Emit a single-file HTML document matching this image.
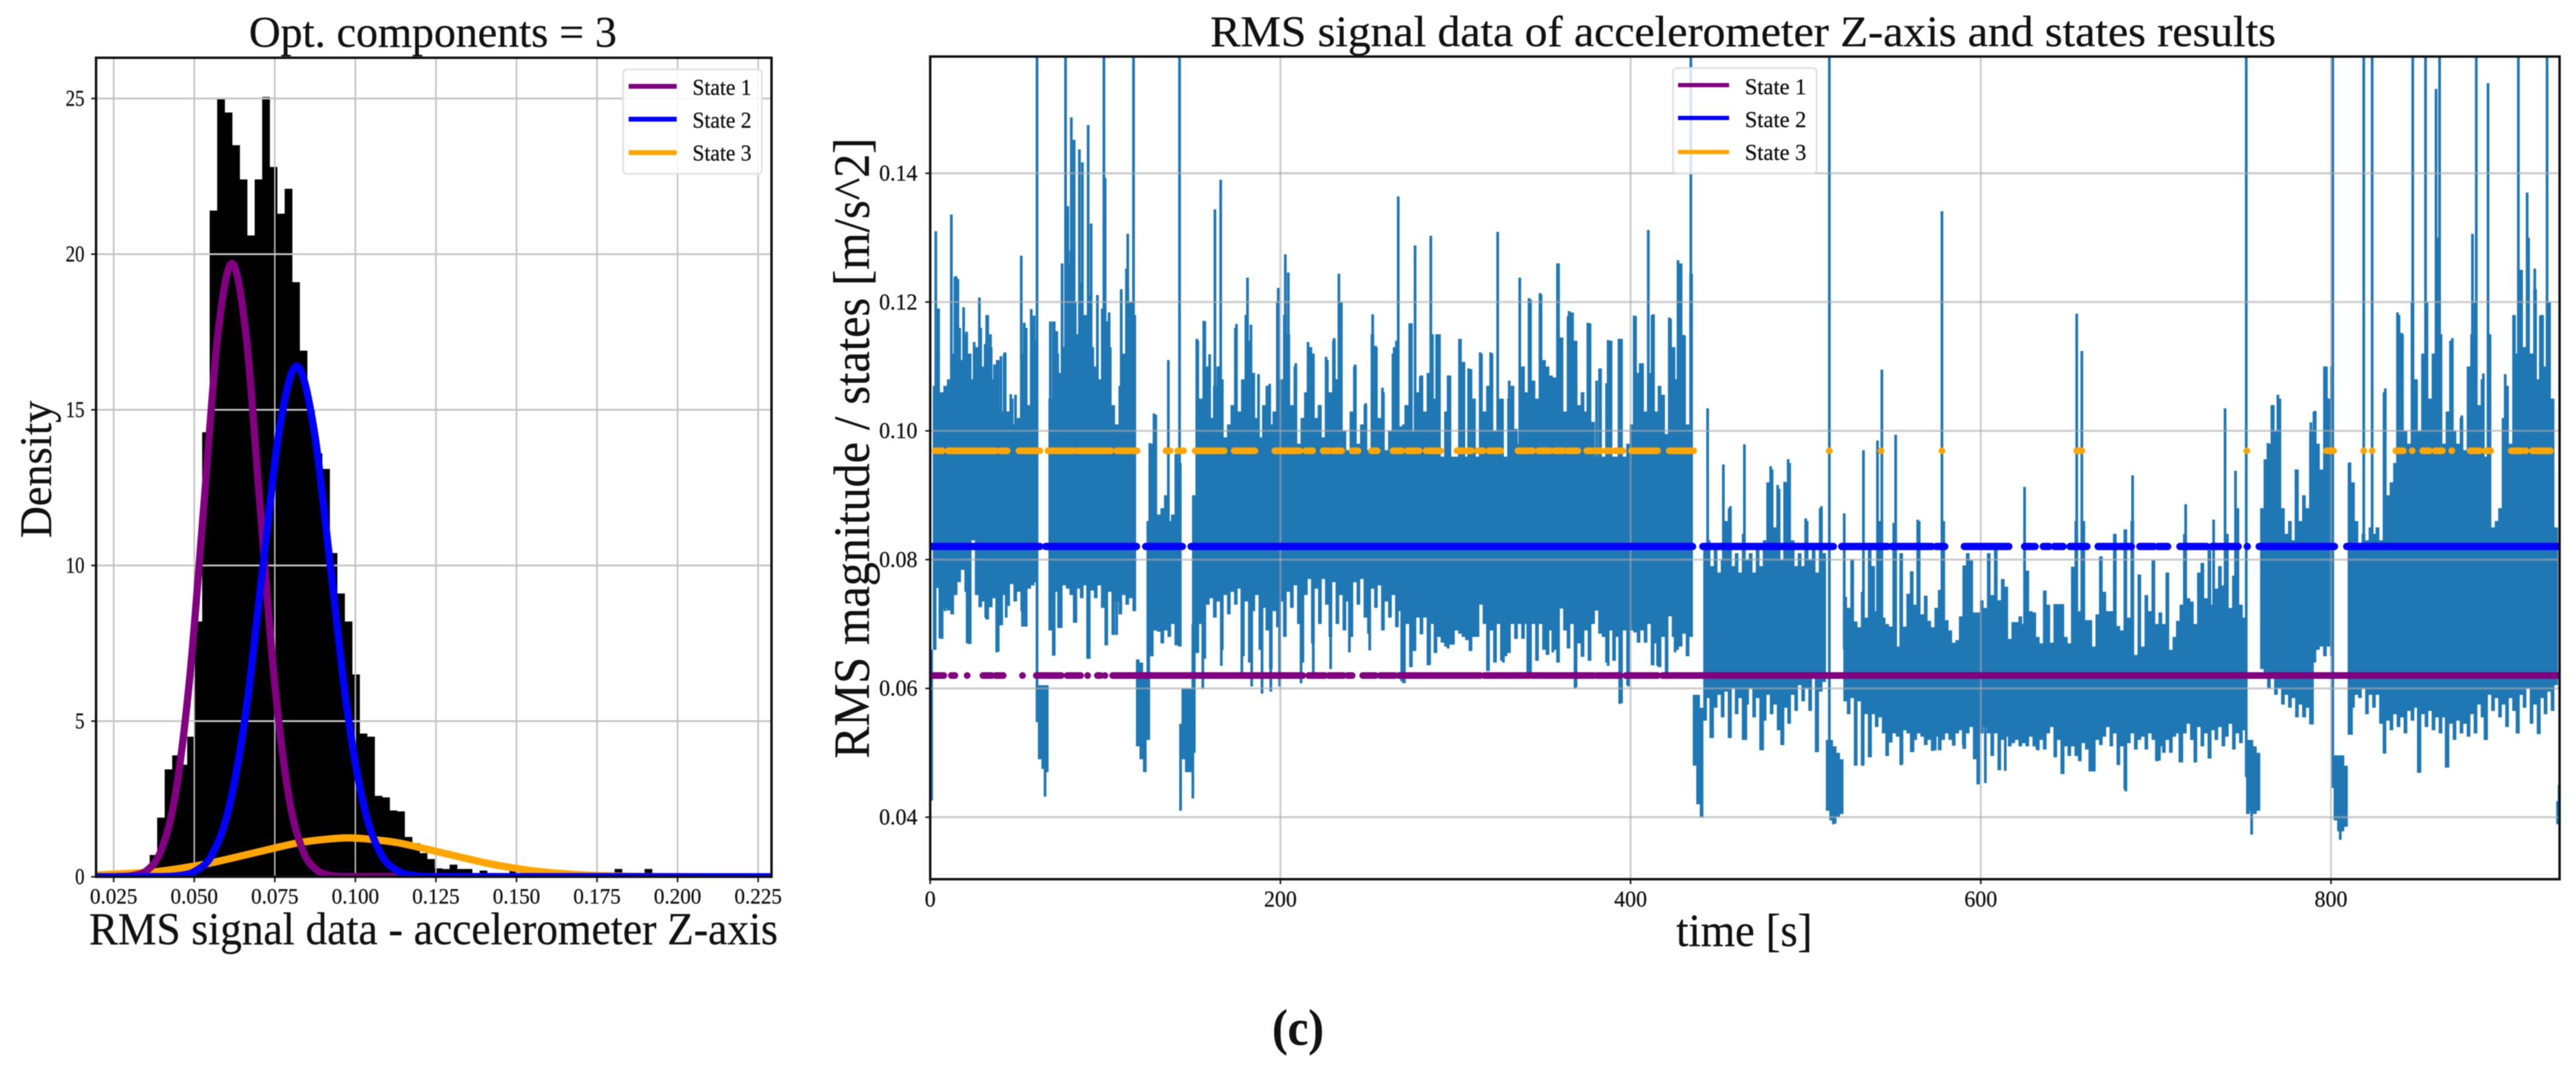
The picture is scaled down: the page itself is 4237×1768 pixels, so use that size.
<!DOCTYPE html>
<html lang="en">
<head>
<meta charset="utf-8">
<title>RMS accelerometer states</title>
<style>
html,body{margin:0;padding:0;background:#fff;}
svg{display:block;filter:blur(0.8px);}
text{font-family:"Liberation Serif","DejaVu Serif",serif;fill:#111;stroke:#111;stroke-width:0.4px;}
</style>
</head>
<body>
<svg id="fig" width="4237" height="1768" viewBox="0 0 4237 1768">
  <defs>
    <clipPath id="clip-hist"><rect x="158" y="95" width="1111" height="1347"/></clipPath>
    <clipPath id="clip-sig"><rect x="1530" y="93" width="2680" height="1353"/></clipPath>
  </defs>
  <rect x="0" y="0" width="4237" height="1768" fill="#fff"/>

  <g id="hist-chart">
    <g id="hist-bars" clip-path="url(#clip-hist)"></g>
    <g id="hist-grid"></g>
    <g id="hist-curves" clip-path="url(#clip-hist)"></g>
    <g id="hist-ticks"></g>
    <rect x="158" y="95" width="1111" height="1347" fill="none" stroke="#111" stroke-width="4"/>
    <text x="712" y="77" font-size="72" text-anchor="middle" textLength="605" lengthAdjust="spacingAndGlyphs">Opt. components = 3</text>
    <text x="713" y="1553" font-size="75" text-anchor="middle" textLength="1133" lengthAdjust="spacingAndGlyphs">RMS signal data - accelerometer Z-axis</text>
    <text transform="translate(84,772) rotate(-90)" font-size="74" text-anchor="middle" textLength="226" lengthAdjust="spacingAndGlyphs">Density</text>
    <g>
      <rect x="1025" y="114" width="228" height="172" rx="6" fill="#fff" fill-opacity="0.85" stroke="#e2e2e2" stroke-width="3"/>
      <line x1="1034" x2="1113" y1="142" y2="142" stroke="#800080" stroke-width="8"/>
      <text x="1139" y="156" font-size="37" textLength="97" lengthAdjust="spacingAndGlyphs">State 1</text>
      <line x1="1034" x2="1113" y1="196" y2="196" stroke="#0000ff" stroke-width="8"/>
      <text x="1139" y="210" font-size="37" textLength="97" lengthAdjust="spacingAndGlyphs">State 2</text>
      <line x1="1034" x2="1113" y1="251" y2="251" stroke="#ffa500" stroke-width="8"/>
      <text x="1139" y="264" font-size="37" textLength="97" lengthAdjust="spacingAndGlyphs">State 3</text>
    </g>
  </g>

  <g id="signal-chart">
    <g id="sig-marks" clip-path="url(#clip-sig)"></g>
    <g id="sig-grid"></g>
    <g id="sig-states" clip-path="url(#clip-sig)"></g>
    <g id="sig-ticks"></g>
    <g>
      <rect x="2752" y="112" width="236" height="173" rx="6" fill="#fff" fill-opacity="0.82" stroke="#e2e2e2" stroke-width="3"/>
      <line x1="2760" x2="2844" y1="140" y2="140" stroke="#800080" stroke-width="7"/>
      <text x="2870" y="155" font-size="37" textLength="101" lengthAdjust="spacingAndGlyphs">State 1</text>
      <line x1="2760" x2="2844" y1="194" y2="194" stroke="#0000ff" stroke-width="7"/>
      <text x="2870" y="209" font-size="37" textLength="101" lengthAdjust="spacingAndGlyphs">State 2</text>
      <line x1="2760" x2="2844" y1="250" y2="250" stroke="#ffa500" stroke-width="7"/>
      <text x="2870" y="263" font-size="37" textLength="101" lengthAdjust="spacingAndGlyphs">State 3</text>
    </g>
    <rect x="1530" y="93" width="2680" height="1353" fill="none" stroke="#111" stroke-width="4"/>
    <text x="2867" y="76" font-size="72" text-anchor="middle" textLength="1753" lengthAdjust="spacingAndGlyphs">RMS signal data of accelerometer Z-axis and states results</text>
    <text x="2869" y="1556" font-size="76" text-anchor="middle" textLength="224" lengthAdjust="spacingAndGlyphs">time [s]</text>
    <text transform="translate(1429,737) rotate(-90)" font-size="84" text-anchor="middle" textLength="1021" lengthAdjust="spacingAndGlyphs">RMS magnitude / states [m/s^2]</text>
  </g>

  <text x="2135" y="1718" font-size="84" font-weight="bold" text-anchor="middle" textLength="85" lengthAdjust="spacingAndGlyphs">(c)</text>
</svg>

<script>
// ---------- Histogram data ----------
const histFirstEdge = 0.03617;
const histBinWidth = 0.002327;
const histDensity = [0.7,1.9,3.45,3.9,3.6,4.5,8.2,14.28,21.4,25.0,24.55,23.5,22.4,20.6,22.4,25.05,22.8,21.3,22.1,19.1,16.9,15.0,13.6,13.1,10.4,9.1,8.2,6.5,4.6,4.5,2.6,2.55,2.13,2.1,1.28,1.08,0.76,0.57,0.27,0.25,0.39,0.25,0.25,0,0.2,0,0,0,0.2,0,0,0,0,0,0,0,0,0,0,0,0,0,0.25,0,0,0,0.25];
const histXTicks = [0.025,0.05,0.075,0.1,0.125,0.15,0.175,0.2,0.225];
const histXTickLabels = ['0.025','0.050','0.075','0.100','0.125','0.150','0.175','0.200','0.225'];
const histYTicks = [0,5,10,15,20,25];
const histYTickLabels = ['0','5','10','15','20','25'];

const state1CurveX = [0.0195,0.0267,0.0311,0.0355,0.0398,0.0442,0.0486,0.053,0.0573,0.0617,0.0661,0.0704,0.0748,0.0792,0.0836,0.088,0.0923,0.0967,0.229];
const state1CurveY = [0,0.007,0.043,0.219,0.865,2.67,6.4,11.95,17.39,19.7,17.39,11.95,6.4,2.67,0.865,0.219,0.043,0.007,0];
const state2CurveX = [0.0195,0.0398,0.0451,0.0503,0.0556,0.0608,0.0661,0.0713,0.0766,0.0818,0.087,0.0923,0.0975,0.1028,0.108,0.1133,0.1185,0.1238,0.229];
const state2CurveY = [0,0.005,0.036,0.18,0.72,2.22,5.33,9.95,14.47,16.4,14.47,9.95,5.33,2.22,0.72,0.18,0.036,0.005,0];
const state3CurveX = [0.0195,0.0238,0.0386,0.0534,0.0682,0.083,0.0978,0.1126,0.1274,0.1422,0.157,0.1718,0.1866,0.2014,0.229];
const state3CurveY = [0.05,0.08,0.169,0.406,0.758,1.103,1.25,1.103,0.758,0.406,0.169,0.055,0.014,0.003,0];

// ---------- Signal data ----------
const sigXTicks = [0,200,400,600,800];
const sigXTickLabels = ['0','200','400','600','800'];
const sigYTicks = [0.04,0.06,0.08,0.1,0.12,0.14];
const sigYTickLabels = ['0.04','0.06','0.08','0.10','0.12','0.14'];

// Envelope of the RMS signal, one reading every sampleStep seconds (rows of 20 s).
const sampleStep = 2;
const sigUpper = [
.066,.107,.119,.106,.107,.108,.112,.124,.116,.111,
.115,.112,.108,.113,.116,.110,.118,.113,.108,.111,
.103,.112,.103,.105,.101,.102,.112,.116,.104,.117,
.114,.0605,.0605,.0605,.105,.117,.112,.109,.113,.126,
.128,.120,.115,.123,.118,.121,.113,.110,.108,.119,
.117,.113,.104,.101,.107,.112,.122,.120,.118,.0645,
.064,.062,.086,.098,.1025,.087,.088,.090,.086,.087,
.0964,.095,.060,.060,.060,.090,.114,.105,.117,.110,
.102,.107,.110,.108,.099,.101,.104,.116,.103,.108,
.118,.114,.109,.102,.099,.104,.107,.101,.103,.120,
.108,.118,.115,.104,.110,.098,.102,.106,.113,.112,
.102,.104,.099,.111,.106,.114,.108,.120,.100,.097,
.103,.110,.098,.101,.104,.097,.115,.113,.102,.106,
.097,.100,.112,.114,.1007,.101,.104,.1167,.100,.106,
.1086,.103,.109,.115,.105,.115,.096,.103,.1086,.096,
.096,.1143,.1107,.096,.1096,.105,.096,.112,.103,.107,
.112,.100,.105,.105,.096,.105,.107,.1003,.098,.110,
.106,.1204,.1078,.105,.1212,.111,.110,.1086,.1083,.126,
.1145,.103,.1178,.1184,.114,.104,.106,.103,.1167,.1014,
.096,.1097,.096,.1074,.114,.096,.096,.1143,.096,.098,
.101,.1178,.109,.1105,.103,.109,.118,.103,.107,.1056,
.0995,.1174,.113,.108,.126,.1147,.101,.1244,.059,.059,
.057,.082,.083,.079,.082,.078,.080,.086,.088,.079,
.081,.078,.084,.080,.081,.078,.082,.079,.083,.092,
.094,.085,.091,.080,.092,.095,.083,.079,.081,.079,
.086,.080,.082,.078,.088,.081,.052,.052,.051,.050,
.049,.0742,.0725,.080,.0704,.0695,.075,.071,.0825,.079,
.072,.086,.071,.070,.0696,.0857,.0665,.081,.0696,.0747,
.0782,.073,.086,.0715,.0744,.0705,.0695,.0725,.0753,.086,
.0706,.069,.0671,.0675,.0712,.0791,.081,.0799,.0718,.0718,
.0737,.0725,.081,.0745,.0816,.0737,.077,.0758,.0677,.0703,
.0703,.0712,.070,.0783,.072,.0718,.068,.067,.0752,.073,
.0671,.0731,.0731,.0731,.068,.067,.0789,.086,.072,.086,
.0706,.0706,.0665,.0715,.0805,.075,.072,.072,.084,.0697,
.069,.0847,.071,.086,.0652,.0777,.0665,.0745,.072,.0799,
.070,.0718,.070,.078,.066,.068,.0705,.073,.084,.074,
.0735,.070,.078,.0795,.074,.082,.073,.0755,.079,.076,
.084,.0725,.0775,.088,.073,.071,.052,.052,.051,.050,
.088,.0955,.098,.104,.100,.105,.088,.084,.086,.083,
.094,.086,.090,.088,.100,.103,.098,.094,.110,.105,
.110,.0496,.0496,.0496,.048,.095,.092,.086,.082,.084,
.083,.085,.084,.085,.083,.106,.090,.092,.095,.118,
.115,.100,.098,.120,.108,.100,.112,.120,.105,.112,
.130,.115,.098,.103,.114,.100,.098,.102,.097,.110,
.115,.120,.104,.108,.096,.115,.085,.086,.088,.102,
.107,.098,.118,.112,.125,.113,.130,.112,.122,.108,
.118,.110,.120,.105,.085,.045];
const sigLower = [
.043,.066,.0756,.0677,.0725,.0721,.0715,.0745,.0765,.0784,
.075,.0669,.083,.0745,.0726,.0735,.0707,.0726,.074,.0657,
.0698,.0745,.0728,.0762,.0735,.075,.072,.0696,.0755,.076,
.0765,.049,.0475,.047,.069,.0651,.075,.0694,.076,.0755,
.0745,.0702,.0755,.074,.076,.0646,.0752,.074,.076,.0725,
.0667,.075,.0683,.0735,.0715,.0745,.073,.074,.072,.051,
.049,.047,.052,.065,.069,.0688,.067,.069,.068,.070,
.0667,.0665,.049,.047,.047,.050,.0655,.070,.0646,.073,
.074,.071,.0735,.066,.0745,.0715,.075,.073,.0755,.065,
.0735,.064,.072,.0745,.066,.0725,.069,.063,.072,.0695,
.0735,.068,.075,.0725,.076,.070,.064,.0745,.077,.067,
.0755,.070,.077,.073,.068,.0765,.070,.0745,.069,.0735,
.068,.0765,.073,.077,.071,.0685,.0755,.0725,.076,.069,
.0735,.071,.0745,.0695,.072,.0608,.070,.0633,.0658,.071,
.0684,.071,.0636,.070,.0655,.068,.0671,.0665,.0668,.0668,
.069,.0685,.068,.0675,.0658,.068,.068,.073,.070,.0627,
.069,.064,.070,.0643,.065,.0655,.070,.0677,.070,.0677,
.070,.0624,.070,.0643,.070,.066,.0652,.069,.066,.064,
.0724,.069,.0662,.070,.0602,.067,.0649,.069,.0643,.070,
.0721,.0685,.068,.064,.069,.0643,.068,.0577,.069,.0605,
.069,.0687,.0671,.069,.0671,.070,.0636,.067,.0633,.068,
.0624,.0712,.068,.066,.0665,.0685,.065,.068,.048,.042,
.040,.055,.0585,.0523,.057,.059,.0555,.0595,.0523,.060,
.056,.0585,.052,.0575,.060,.0555,.0585,.0504,.055,.059,
.056,.0575,.0535,.0512,.057,.0545,.059,.0565,.0605,.058,
.060,.0565,.062,.0501,.0595,.061,.041,.0395,.039,.040,
.0405,.058,.056,.0585,.048,.058,.048,.056,.0493,.056,
.054,.0555,.053,.0495,.0516,.053,.0525,.0481,.0535,.053,
.0501,.052,.053,.0525,.0512,.052,.0503,.0525,.0504,.052,
.053,.052,.0511,.053,.0535,.0506,.053,.054,.049,.0451,
.053,.054,.053,.0495,.053,.0473,.052,.0525,.051,.0515,
.052,.051,.0515,.051,.0525,.051,.0504,.052,.0505,.053,
.054,.0493,.052,.0467,.051,.0495,.051,.0495,.0487,.0515,
.0505,.0471,.0471,.052,.0512,.0525,.054,.051,.053,.0481,
.051,.0443,.0515,.053,.0505,.052,.0525,.0505,.053,.052,
.0487,.051,.050,.052,.050,.0525,.053,.0485,.053,.0545,
.052,.0485,.054,.051,.053,.0491,.0535,.052,.054,.051,
.0525,.0545,.0505,.053,.0515,.0535,.0405,.041,.0405,.041,
.063,.0625,.060,.0615,.059,.060,.0575,.059,.057,.0585,
.0555,.0575,.0555,.057,.0544,.064,.066,.0665,.065,.0665,
.065,.0395,.0378,.0378,.0385,.0528,.057,.059,.0585,.060,
.056,.059,.057,.059,.0545,.0499,.055,.0535,.056,.054,
.0555,.053,.0565,.055,.057,.0469,.056,.054,.0565,.0535,
.0555,.053,.0555,.0477,.0545,.052,.055,.053,.0545,.0525,
.056,.053,.0575,.0555,.052,.059,.0565,.0585,.0555,.0575,
.054,.0585,.0565,.053,.059,.057,.060,.0545,.0575,.0529,
.0585,.056,.0595,.0565,.0605,.040];

const upperSpikeTime = [3.2,4.5,12.1,14.1,15.8,19.1,20.8,25.1,28.1,31.4,34.4,36.7,40.4,42.7,46,48.7,52,53.7,57.7,59.3,61,68.6,72.3,75.3,77.3,78.6,80.6,82.2,85.2,86.9,90.2,91.9,95.5,99.2,99.9,102.2,109.1,112.1,112.8,116.1,125.4,127.8,136,142.4,152.3,156.3,159.6,162.6,165.9,170.6,174.9,181.2,183.2,187.5,193.9,198.8,202.8,204.5,208.8,215.8,217.4,222.1,226.1,230.7,233.4,242.7,248.7,252.7,254.3,258.3,265,267.3,271.6,273.9,276.9,279.9,285.9,289.2,295.8,302.5,307.5,314.1,320.1,324.1,330.7,336.7,342,348.3,358.3,360,364.9,368.9,375.6,380.6,387.2,393.4,402.1,405.5,410.1,413.1,422.1,427.1,430.4,434.4,444,453,457,465,480,484,488,490,500,509,513.5,522,533,541,543.5,551.4,564,577.8,625,654.8,657.7,686.7,717,733,739.5,745.5,751.6,762.4,764,767,769.7,780,788.5,791,797.4,801,810.8,818.7,823.5,831,838,840.4,846.7,854,860,862,869.3,874.7,880.8,883,887,889.7,899.5,904.6,907,912,916.4,919.6,923.4,925.6];
const upperSpikeValue = [0.131,0.1189,0.1336,0.1238,0.1236,0.1192,0.1154,0.1138,0.1207,0.1135,0.115,0.1103,0.1116,0.1122,0.1057,0.1056,0.1272,0.1168,0.1189,0.1179,0.165,0.117,0.1155,0.126,0.17,0.1349,0.1487,0.1452,0.1437,0.1417,0.1475,0.1322,0.1211,0.17,0.1393,0.1184,0.122,0.1252,0.1306,0.165,0.0981,0.1027,0.111,0.165,0.1143,0.1171,0.1119,0.1344,0.139,0.1008,0.1166,0.1238,0.1165,0.1088,0.1073,0.1222,0.1274,0.1246,0.1105,0.1138,0.113,0.104,0.1115,0.1144,0.1244,0.1103,0.1043,0.1181,0.1132,0.1067,0.113,0.1364,0.104,0.1167,0.1288,0.1084,0.1303,0.115,0.1086,0.1142,0.1097,0.1122,0.1122,0.1309,0.1078,0.1238,0.1206,0.1214,0.126,0.1144,0.1186,0.1105,0.1168,0.1078,0.1141,0.1143,0.1179,0.1105,0.1312,0.1181,0.1176,0.1265,0.1149,0.165,0.1035,0.0948,0.0883,0.0979,0.0945,0.0916,0.0921,0.0956,0.0864,0.0883,0.165,0.0872,0.097,0.0985,0.1095,0.0994,0.0862,0.1341,0.0913,0.1182,0.1124,0.0931,0.0886,0.0862,0.1035,0.0938,0.165,0.0956,0.0981,0.104,0.1056,0.094,0.1013,0.1031,0.11,0.165,0.0951,0.165,0.165,0.1066,0.1184,0.1152,0.165,0.165,0.1531,0.165,0.1144,0.1024,0.1306,0.165,0.1089,0.154,0.1088,0.1179,0.165,0.137,0.1252,0.1179,0.165,0.088];

const lowerSpikeTime = [0.8,5.5,8.5,12.8,21.1,31.7,38,43.4,52.7,65.6,70.6,73.3,83.2,89.9,100.5,106.5,143,150,155.7,156.3,166.3,178,183.6,189.5,194.5,199.5,211.8,218.8,228.7,239.4,251,269.3,285.2,295.8,318.4,327.4,341.3,355.6,368.3,387.2,393.8,398.8,415.4,425.4,445.8,457,465.8,475.4,487,506,515.8,532.6,537,555,561.3,574,590,602.6,614,632,647,662.8,682.8,702,713.7,731,754.7,785,789.4,805.3,811.7,830.8,849.9,865.8,888,907,919,929.4];
const lowerSpikeValue = [0.0426,0.0678,0.072,0.0715,0.067,0.071,0.0656,0.071,0.0696,0.0432,0.0651,0.0694,0.0702,0.0646,0.0667,0.0683,0.041,0.0429,0.06,0.0646,0.0635,0.0619,0.0603,0.0592,0.0595,0.0603,0.0608,0.0624,0.063,0.0656,0.0659,0.0611,0.0637,0.0662,0.0627,0.064,0.0624,0.0656,0.06,0.0635,0.0576,0.0603,0.0635,0.0656,0.0523,0.0523,0.052,0.0504,0.0512,0.0501,0.0389,0.048,0.0493,0.0483,0.0501,0.0504,0.0512,0.0453,0.0472,0.0507,0.0467,0.0472,0.044,0.0488,0.0485,0.0491,0.0373,0.0555,0.0544,0.0365,0.0528,0.0499,0.0469,0.0477,0.052,0.053,0.0529,0.0389];

const state1Level = 0.062;
const state1Start = [0.8,12.1,21.1,30.1,37.4,52.7,60.6,78.2,89.9,95.5,99.8,104.2,216.1,227.7,238.4,247,257,267.6,316.4,344,380.6,397.2,418.1];
const state1End =   [7.8,14.1,21.1,35.1,41.7,52.7,74.9,85.9,89.9,97.2,99.8,212.8,225.4,236,241,254.3,265.3,314.1,342.4,378.9,393.8,415.4,930];
const state2Level = 0.08205;
const state2Start = [0.8,66,123.1,149,441.3,520.6,549.2,567.3,574.6,590.6,625,635.7,642,651,667,679.7,690.8,701.3,713.7,732,752.2,759,809];
const state2End =   [62.6,117.8,144,435.4,515.8,546.6,566.7,572,579.4,616,631,639,647,660.6,678,686,698.8,706.7,729,747,752.2,802,930];
const state3Level = 0.0969;
const state3Start = [2.8,10.2,40,50.7,67.3,83.9,106.5,134.7,141.4,151.3,173.6,196.8,214.5,224.4,230,241,252,264.3,272.6,283.2,300.8,312.5,319.1,335.7,347.3,356.6,363.9,374.9,380.6,386.2,391.5,400.5,422.1,513.5,543,577.8,654.8,751.9,797.4,818.7,823.5,837,846.4,852.4,859.4,869,879.5,888,903,911.3,915];
const state3End =   [6.8,37.4,44,62.6,81.6,103.2,118.1,137,144.7,167.9,185.5,211.1,218.4,227.7,235,244.3,255.3,269.3,279.2,291.5,309.1,315.8,325.8,344,354,361.6,369.9,378.2,383.2,388.9,395.5,415.4,436,513.5,543,577.8,657.7,751.9,801.5,818.7,823.5,841.3,846.4,856.3,863.6,869,884.9,891.2,908.8,911.3,925.3];

// ---------- Axis functions ----------
function histX(v){ return 187 + (v - 0.025) * 5300; }
function histY(v){ return 1442 - v * 51.2; }
function sigX(t){ return 1530 + t * 2.88; }
function sigY(v){ return 1344 - (v - 0.04) * 10590; }

const svgRoot = document.getElementById('fig');
const NS = svgRoot.namespaceURI;
function make(parent, tag, attrs, txt){
  const e = document.createElementNS(NS, tag);
  for (const k in attrs) e.setAttribute(k, attrs[k]);
  if (txt !== undefined) e.textContent = txt;
  parent.appendChild(e);
  return e;
}
// Monotone-in-x cubic Hermite through the read points.
function smoothPath(xs, ys){
  const n = xs.length;
  const m = xs.map(function(x, i){
    const a = Math.max(i-1, 0), b = Math.min(i+1, n-1);
    return (ys[b] - ys[a]) / (xs[b] - xs[a]);
  });
  let d = 'M' + xs[0].toFixed(1) + ' ' + ys[0].toFixed(1);
  for (let i = 0; i < n - 1; i++){
    const dx = Math.min(xs[i+1] - xs[i], 60) / 3;
    const c1x = xs[i] + dx, c1y = ys[i] + m[i] * dx;
    const c2x = xs[i+1] - dx, c2y = ys[i+1] - m[i+1] * dx;
    d += 'C' + c1x.toFixed(1) + ' ' + c1y.toFixed(1) + ' ' + c2x.toFixed(1) + ' ' + c2y.toFixed(1) + ' ' + xs[i+1].toFixed(1) + ' ' + ys[i+1].toFixed(1);
  }
  return d;
}

// ---------- Histogram ----------
const barsG = document.getElementById('hist-bars');
histDensity.forEach(function(v, i){
  if (v <= 0) return;
  const left = histFirstEdge + i * histBinWidth;
  const x0 = histX(left), x1 = histX(left + histBinWidth);
  const bar = make(barsG, 'rect', {x:x0.toFixed(2), y:histY(v).toFixed(2), width:(x1-x0+0.4).toFixed(2), height:(histY(0)-histY(v)).toFixed(2), fill:'#000'});
  
  
});

const histGridG = document.getElementById('hist-grid');
const histTickG = document.getElementById('hist-ticks');
histXTicks.forEach(function(v, i){
  const x = histX(v);
  const g = make(histGridG, 'line', {x1:x, x2:x, y1:95, y2:1442, stroke:'#bdbdbd', 'stroke-width':2.4});
  
  
  const t = make(histTickG, 'line', {x1:x, x2:x, y1:1442, y2:1451, stroke:'#111', 'stroke-width':2.5});
  
  
  const l = make(histTickG, 'text', {x:x, y:1486, 'font-size':36, 'text-anchor':'middle', textLength:78, lengthAdjust:'spacingAndGlyphs'}, histXTickLabels[i]);
  
  
});
histYTicks.forEach(function(v, i){
  const y = histY(v);
  const g = make(histGridG, 'line', {x1:158, x2:1269, y1:y, y2:y, stroke:'#c4c4c4', 'stroke-width':3});
  
  
  const t = make(histTickG, 'line', {x1:150, x2:158, y1:y, y2:y, stroke:'#111', 'stroke-width':2.5});
  
  
  const s = histYTickLabels[i];
  const l = make(histTickG, 'text', {x:139, y:y+12, 'font-size':37, 'text-anchor':'end', textLength:s.length*15.5, lengthAdjust:'spacingAndGlyphs'}, s);
  
  
});

const curvesG = document.getElementById('hist-curves');
const curve3 = make(curvesG, 'path', {d:smoothPath(state3CurveX.map(histX), state3CurveY.map(histY)), fill:'none', stroke:'#ffa500', 'stroke-width':12});


const curve1 = make(curvesG, 'path', {d:smoothPath(state1CurveX.map(histX), state1CurveY.map(histY)), fill:'none', stroke:'#800080', 'stroke-width':12});


const curve2 = make(curvesG, 'path', {d:smoothPath(state2CurveX.map(histX), state2CurveY.map(histY)), fill:'none', stroke:'#0000ff', 'stroke-width':12});



// ---------- Signal ----------
function midAt(t){
  const i = Math.min(Math.round(t / sampleStep), sigUpper.length - 1);
  return (sigUpper[i] + sigLower[i]) / 2;
}
const sigG = document.getElementById('sig-marks');
let bandD = '';
sigUpper.forEach(function(hi, i){
  const t = i * sampleStep;
  const x0 = sigX(t - 0.5).toFixed(1), x1 = (sigX(t - 0.5 + sampleStep) + 0.3).toFixed(1);
  bandD += 'M' + x0 + ' ' + sigY(hi).toFixed(1) + 'H' + x1 + 'V' + sigY(sigLower[i]).toFixed(1) + 'H' + x0 + 'Z';
});
const band = make(sigG, 'path', {d:bandD, fill:'#1f77b4'});



let upD = '';
upperSpikeTime.forEach(function(t, i){
  const x = sigX(t).toFixed(1);
  upD += 'M' + x + ' ' + sigY(midAt(t)).toFixed(1) + 'V' + sigY(upperSpikeValue[i]).toFixed(1);
});
const upPath = make(sigG, 'path', {d:upD, fill:'none', stroke:'#1f77b4', 'stroke-width':4.5});



let loD = '';
lowerSpikeTime.forEach(function(t, i){
  const x = sigX(t).toFixed(1);
  loD += 'M' + x + ' ' + sigY(midAt(t)).toFixed(1) + 'V' + sigY(lowerSpikeValue[i]).toFixed(1);
});
const loPath = make(sigG, 'path', {d:loD, fill:'none', stroke:'#1f77b4', 'stroke-width':4.5});



const sigGridG = document.getElementById('sig-grid');
const sigTickG = document.getElementById('sig-ticks');
sigXTicks.forEach(function(v, i){
  const x = sigX(v);
  const g = make(sigGridG, 'line', {x1:x, x2:x, y1:93, y2:1446, stroke:'#aaaaaa', 'stroke-opacity':0.55, 'stroke-width':3.4});
  
  
  const t = make(sigTickG, 'line', {x1:x, x2:x, y1:1446, y2:1454, stroke:'#111', 'stroke-width':2.5});
  
  
  const s = sigXTickLabels[i];
  const l = make(sigTickG, 'text', {x:x, y:1491, 'font-size':37, 'text-anchor':'middle', textLength:s.length*18, lengthAdjust:'spacingAndGlyphs'}, s);
  
  
});
sigYTicks.forEach(function(v, i){
  const y = sigY(v);
  const g = make(sigGridG, 'line', {x1:1530, x2:4210, y1:y, y2:y, stroke:'#aaaaaa', 'stroke-opacity':0.6, 'stroke-width':3.4});
  
  
  const t = make(sigTickG, 'line', {x1:1522, x2:1530, y1:y, y2:y, stroke:'#111', 'stroke-width':2.5});
  
  
  const l = make(sigTickG, 'text', {x:1509, y:y+12, 'font-size':37, 'text-anchor':'end', textLength:63, lengthAdjust:'spacingAndGlyphs'}, sigYTickLabels[i]);
  
  
});

function statePath(level, starts, ends){
  const y = sigY(level).toFixed(1);
  let d = '';
  starts.forEach(function(s, i){
    d += 'M' + sigX(s).toFixed(1) + ' ' + y + 'L' + (sigX(ends[i]) + 0.01).toFixed(2) + ' ' + y;
  });
  return d;
}
const statesG = document.getElementById('sig-states');
const s3 = make(statesG, 'path', {d:statePath(state3Level, state3Start, state3End), fill:'none', stroke:'#ffa500', 'stroke-width':11, 'stroke-linecap':'round'});


const s2 = make(statesG, 'path', {d:statePath(state2Level, state2Start, state2End), fill:'none', stroke:'#0000ff', 'stroke-width':12, 'stroke-linecap':'round'});


const s1 = make(statesG, 'path', {d:statePath(state1Level, state1Start, state1End), fill:'none', stroke:'#800080', 'stroke-width':11, 'stroke-linecap':'round'});


</script>
</body>
</html>
